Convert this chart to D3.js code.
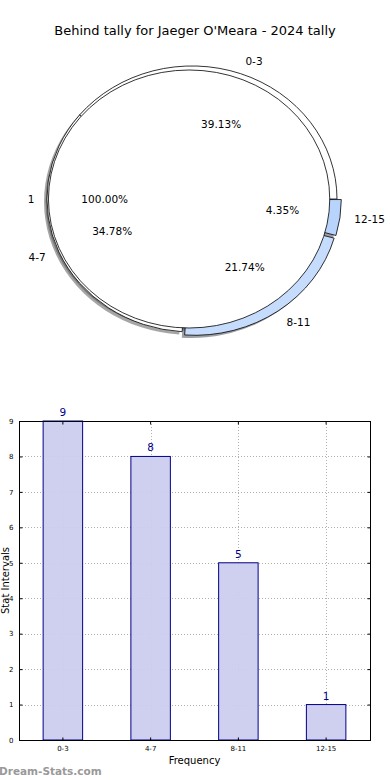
<!DOCTYPE html>
<html>
<head>
<meta charset="utf-8">
<script src="https://cdn.jsdelivr.net/npm/d3@7"></script>
<style>
  body { margin: 0; background: #fff; }
  svg { display: block; font-family: "DejaVu Sans", sans-serif; }
</style>
</head>
<body>
<script>
// chart data
const intervals = ['0-3', '4-7', '8-11', '12-15'];
const counts = [9, 8, 5, 1];
const pieColors = ['#ffffff', '#ffffff', '#c6dcfd', '#b9d4fc'];
const explode = [0, 0, 0.03, 0.03];
const innerLabels = ['1'];
const innerValues = [1];
const yTicks = [0, 1, 2, 3, 4, 5, 6, 7, 8, 9];

const W = 390, H = 780;

const svg = d3.select('body').append('svg')
    .attr('width', W)
    .attr('height', H);

svg.append('text')
    .attr('x', 195)
    .attr('y', 35)
    .attr('text-anchor', 'middle')
    .style('font-size', '13px')
    .text("Behind tally for Jaeger O'Meara - 2024 tally");

// ---- pie (matplotlib-like, not equal aspect) ----
const cx = 192, cy = 199, sx = 145, sy = 133;
const innerR = 0.97, innerExplode = 0.02;

const pie = d3.pie().sort(null)
    .startAngle(Math.PI / 2)
    .endAngle(Math.PI / 2 - 2 * Math.PI);

// d3 angle: clockwise from north -> unit vector in svg space
function dir(a) { return [Math.sin(a), -Math.cos(a)]; }

function shade(c) {
    const r = d3.rgb(c);
    return d3.rgb(r.r * 0.3, r.g * 0.3, r.b * 0.3).toString();
}

const total = d3.sum(counts);
const outer = pie(counts).map((d, i) => {
    const mid = (d.startAngle + d.endAngle) / 2;
    const u = dir(mid);
    return Object.assign(d, {
        label: intervals[i], color: pieColors[i], r: 1,
        ox: explode[i] * u[0], oy: explode[i] * u[1], u: u,
        pct: (d.value / total * 100).toFixed(2) + '%'
    });
});
const inner = pie(innerValues).map((d, i) => {
    const mid = (d.startAngle + d.endAngle) / 2;
    const u = dir(mid);
    return Object.assign(d, {
        label: innerLabels[i], color: '#ffffff', r: innerR,
        ox: innerExplode * u[0], oy: innerExplode * u[1], u: u,
        pct: (d.value / d3.sum(innerValues) * 100).toFixed(2) + '%'
    });
});

const arc = d3.arc().innerRadius(0).outerRadius(d => d.r);

const pieG = svg.append('g')
    .attr('transform', `translate(${cx},${cy}) scale(${sx},${sy})`);

// shadows go under every wedge
pieG.selectAll('path.shadow')
    .data(outer.concat(inner))
    .join('path')
    .attr('class', 'shadow')
    .attr('d', arc)
    .attr('transform', d => `translate(${d.ox - 0.02},${d.oy + 0.02})`)
    .attr('fill', d => shade(d.color))
    .attr('fill-opacity', 0.5)
    .attr('stroke', 'none');

pieG.selectAll('path.outer')
    .data(outer)
    .join('path')
    .attr('class', 'outer')
    .attr('d', arc)
    .attr('transform', d => `translate(${d.ox},${d.oy})`)
    .attr('fill', d => d.color)
    .attr('stroke', '#000')
    .attr('stroke-width', 0.8)
    .attr('vector-effect', 'non-scaling-stroke');

pieG.selectAll('path.inner')
    .data(inner)
    .join('path')
    .attr('class', 'inner')
    .attr('d', arc)
    .attr('transform', d => `translate(${d.ox},${d.oy})`)
    .attr('fill', d => d.color)
    .attr('stroke', '#000')
    .attr('stroke-width', 0.8)
    .attr('vector-effect', 'non-scaling-stroke');

function pos(d, dist) {
    return [cx + (d.ox + dist * d.r * d.u[0]) * sx, cy + (d.oy + dist * d.r * d.u[1]) * sy];
}

const all = outer.concat(inner);
svg.append('g').selectAll('text')
    .data(all)
    .join('text')
    .attr('x', d => pos(d, 1.1)[0])
    .attr('y', d => pos(d, 1.1)[1])
    .attr('text-anchor', d => d.u[0] > 0 ? 'start' : 'end')
    .attr('dominant-baseline', 'central')
    .style('font-size', '10.5px')
    .text(d => d.label);

svg.append('g').selectAll('text')
    .data(all)
    .join('text')
    .attr('x', d => pos(d, 0.6)[0])
    .attr('y', d => pos(d, 0.6)[1])
    .attr('text-anchor', 'middle')
    .attr('dominant-baseline', 'central')
    .style('font-size', '10.5px')
    .text(d => d.pct);

// ---- bar chart ----
const m = { left: 19, right: 370, top: 421, bottom: 740 };

const x = d3.scaleBand()
    .domain(intervals)
    .range([m.left, m.right])
    .paddingInner(0.55)
    .paddingOuter(0.275);

const y = d3.scaleLinear()
    .domain([0, 9])
    .range([m.bottom, m.top]);

const grid = svg.append('g')
    .attr('stroke', '#b0b0b0')
    .attr('stroke-width', 1)
    .attr('stroke-dasharray', '1,2');

grid.selectAll('line.h')
    .data(yTicks)
    .join('line')
    .attr('class', 'h')
    .attr('x1', m.left).attr('x2', m.right)
    .attr('y1', d => Math.round(y(d)) + 0.5)
    .attr('y2', d => Math.round(y(d)) + 0.5);

grid.selectAll('line.v')
    .data(intervals)
    .join('line')
    .attr('class', 'v')
    .attr('x1', d => Math.round(x(d) + x.bandwidth() / 2) + 0.5)
    .attr('x2', d => Math.round(x(d) + x.bandwidth() / 2) + 0.5)
    .attr('y1', m.top).attr('y2', m.bottom);

svg.append('g').selectAll('rect')
    .data(counts)
    .join('rect')
    .attr('x', (d, i) => x(intervals[i]))
    .attr('y', d => y(d))
    .attr('width', x.bandwidth())
    .attr('height', d => y(0) - y(d))
    .attr('fill', '#ccccee')
    .attr('fill-opacity', 0.95)
    .attr('stroke', '#00008b')
    .attr('stroke-width', 1);

svg.append('g').selectAll('text')
    .data(counts)
    .join('text')
    .attr('x', (d, i) => x(intervals[i]) + x.bandwidth() / 2)
    .attr('y', d => y(d) - 5)
    .attr('text-anchor', 'middle')
    .attr('fill', '#00008b')
    .style('font-size', '10.5px')
    .text(d => d);

// frame
svg.append('rect')
    .attr('x', m.left + 0.5)
    .attr('y', m.top + 0.5)
    .attr('width', m.right - m.left)
    .attr('height', m.bottom - m.top)
    .attr('fill', 'none')
    .attr('stroke', '#000')
    .attr('stroke-width', 1);

// axes with inward ticks on all four sides
const yAxisL = d3.axisLeft(y).tickValues(yTicks).tickSizeInner(-3).tickSizeOuter(0).tickPadding(6);
const yAxisR = d3.axisRight(y).tickValues(yTicks).tickSizeInner(-3).tickSizeOuter(0).tickFormat('');
const xAxisB = d3.axisBottom(x).tickSizeInner(-3).tickSizeOuter(0).tickPadding(6);
const xAxisT = d3.axisTop(x).tickSizeInner(-3).tickSizeOuter(0).tickFormat('');

function styleAxis(g) {
    g.select('.domain').remove();
    g.selectAll('text').style('font-size', '7px').attr('fill', '#000')
        .style('font-family', '"DejaVu Sans", sans-serif');
}

svg.append('g').attr('transform', `translate(${m.left + 0.5},0)`).call(yAxisL).call(styleAxis);
svg.append('g').attr('transform', `translate(${m.right + 0.5},0)`).call(yAxisR).call(styleAxis);
svg.append('g').attr('transform', `translate(0,${m.bottom + 0.5})`).call(xAxisB).call(styleAxis);
svg.append('g').attr('transform', `translate(0,${m.top + 0.5})`).call(xAxisT).call(styleAxis);

svg.append('text')
    .attr('x', (m.left + m.right) / 2)
    .attr('y', 764)
    .attr('text-anchor', 'middle')
    .style('font-size', '10px')
    .text('Frequency');

svg.append('text')
    .attr('transform', `translate(9,${(m.top + m.bottom) / 2}) rotate(-90)`)
    .attr('text-anchor', 'middle')
    .style('font-size', '10px')
    .text('Stat Intervals');

svg.append('text')
    .attr('x', -1)
    .attr('y', 775)
    .attr('fill', '#999')
    .style('font-size', '10.5px')
    .style('font-weight', 'bold')
    .text('Dream-Stats.com');
</script>
</body>
</html>
